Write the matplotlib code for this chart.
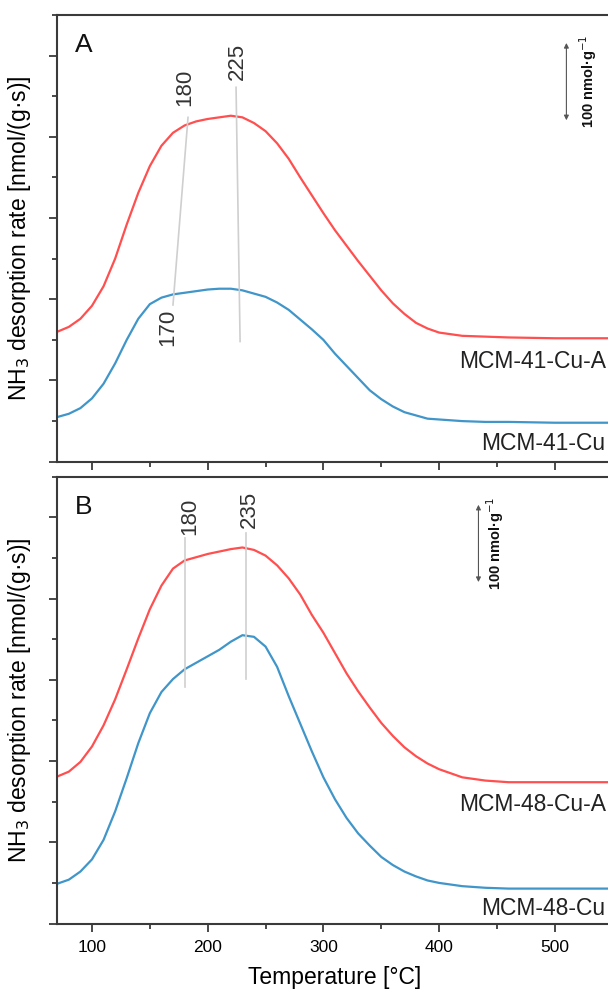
import matplotlib
matplotlib.use('Agg')
import matplotlib.pyplot as plt
from matplotlib.ticker import MultipleLocator, NullFormatter

plt.rcParams['font.family'] = ['Liberation Sans', 'DejaVu Sans']

# temperature grid [°C]
temps = [70, 80, 90, 100, 110, 120, 130, 140, 150, 160, 170, 180, 190, 200,
         210, 220, 230, 240, 250, 260, 270, 280, 290, 300, 310, 320, 330, 340,
         350, 360, 370, 380, 390, 400, 420, 440, 460, 500, 550]

# panel A (offset units, 1 unit = 100 nmol/g)
mcm41_cu_a = [1.60, 1.66, 1.76, 1.92, 2.16, 2.50, 2.92, 3.31, 3.64, 3.89, 4.05, 4.14, 4.19, 4.22,
              4.24, 4.26, 4.24, 4.17, 4.07, 3.92, 3.73, 3.50, 3.28, 3.06, 2.85, 2.66, 2.47, 2.29,
              2.11, 1.95, 1.82, 1.71, 1.64, 1.59, 1.55, 1.54, 1.53, 1.52, 1.52]
mcm41_cu = [0.55, 0.59, 0.66, 0.78, 0.96, 1.21, 1.50, 1.76, 1.94, 2.02, 2.06, 2.08, 2.10, 2.12,
            2.13, 2.13, 2.11, 2.07, 2.03, 1.96, 1.87, 1.75, 1.63, 1.50, 1.33, 1.18, 1.03, 0.88,
            0.77, 0.68, 0.61, 0.57, 0.53, 0.52, 0.50, 0.49, 0.49, 0.48, 0.48]

# panel B
mcm48_cu_a = [1.81, 1.87, 1.99, 2.18, 2.44, 2.76, 3.13, 3.51, 3.87, 4.16, 4.37, 4.47, 4.51, 4.55,
              4.58, 4.61, 4.63, 4.60, 4.53, 4.41, 4.25, 4.05, 3.80, 3.58, 3.33, 3.08, 2.86, 2.66,
              2.47, 2.31, 2.17, 2.06, 1.97, 1.90, 1.80, 1.76, 1.74, 1.74, 1.74]
mcm48_cu = [0.49, 0.54, 0.64, 0.79, 1.03, 1.38, 1.79, 2.22, 2.59, 2.85, 3.01, 3.13, 3.21, 3.29,
            3.37, 3.47, 3.55, 3.53, 3.41, 3.16, 2.80, 2.46, 2.12, 1.80, 1.53, 1.30, 1.11, 0.96,
            0.82, 0.72, 0.64, 0.58, 0.53, 0.50, 0.46, 0.44, 0.43, 0.43, 0.43]

labels_a = ['MCM-41-Cu-A', 'MCM-41-Cu']
labels_b = ['MCM-48-Cu-A', 'MCM-48-Cu']

# peak marks: (text, x_top, y_top, x_bottom, y_bottom, x_text, y_text)
peaks_a = [('180', 183, 4.24, 170, 1.93, 180.5, 4.61),
           ('225', 224.5, 4.61, 228, 1.48, 225.3, 4.93),
           ('170', None, None, None, None, 165.7, 1.66)]
peaks_b = [('180', 180.8, 4.75, 180.8, 2.91, 184.5, 5.01),
           ('235', 233, 4.81, 233, 3.01, 236.4, 5.10)]

red = '#ff4f4f'
blue = '#4095c9'
spine_col = '#3a3a3a'

fig = plt.figure(figsize=(6.08, 9.94), dpi=100)
ax_a = fig.add_axes([0.0942, 0.5355, 0.9135, 0.4494])
ax_b = fig.add_axes([0.0942, 0.0709, 0.9135, 0.4494])


def style_axis(ax):
    ax.set_xlim(70, 550)
    ax.set_ylim(0, 5.5)
    ax.xaxis.set_major_locator(MultipleLocator(100))
    ax.xaxis.set_minor_locator(MultipleLocator(50))
    ax.yaxis.set_major_locator(MultipleLocator(1))
    ax.yaxis.set_minor_locator(MultipleLocator(0.5))
    ax.yaxis.set_major_formatter(NullFormatter())
    for s in ax.spines.values():
        s.set_color(spine_col)
        s.set_linewidth(1.5)
    ax.tick_params(which='both', direction='out', color=spine_col, width=1.3,
                   top=False, right=False)
    ax.tick_params(which='major', length=6)
    ax.tick_params(which='minor', length=3.5)
    ax.tick_params(axis='x', labelsize=12.5, pad=6)
    ax.set_ylabel('NH$_3$ desorption rate [nmol/(g·s)]', fontsize=16.5)
    ax.yaxis.set_label_coords(-0.044, 0.5)


def draw_panel(ax, y_red, y_blue, labels, peaks, letter, bar_x, bar_text_x):
    style_axis(ax)
    ax.plot(temps, y_red, color=red, lw=1.6, solid_joinstyle='round')
    ax.plot(temps, y_blue, color=blue, lw=1.6, solid_joinstyle='round')
    ax.text(544, y_red[-1] - 0.28, labels[0], ha='right', va='center', fontsize=16.5, color='#222222')
    ax.text(544, y_blue[-1] - 0.25, labels[1], ha='right', va='center', fontsize=16.5, color='#222222')
    for txt, x0, y0, x1, y1, xt, yt in peaks:
        if x0 is not None:
            ax.plot([x0, x1], [y0, y1], color='#cfcfcf', lw=1.2)
        ax.text(xt, yt, txt, rotation=90, ha='center', va='center', fontsize=16, color='#333333')
    ax.text(93, 5.13, letter, ha='center', va='center', fontsize=19, color='#111111')
    ax.annotate('', xy=(bar_x, 5.19), xytext=(bar_x, 4.17),
                arrowprops=dict(arrowstyle='<|-|>', color='#555555', lw=0.8,
                                mutation_scale=7))
    ax.text(bar_text_x, 4.68, '100 nmol·g$^{-1}$', rotation=90, ha='center', va='center',
            fontsize=10.5, fontweight='bold', color='#111111')


draw_panel(ax_a, mcm41_cu_a, mcm41_cu, labels_a, peaks_a, 'A', 510, 528.5)
draw_panel(ax_b, mcm48_cu_a, mcm48_cu, labels_b, peaks_b, 'B', 434, 448.5)

ax_a.xaxis.set_major_formatter(NullFormatter())
ax_b.set_xlabel('Temperature [°C]', fontsize=16.5, labelpad=8)

fig.savefig('out.png', dpi=100)
